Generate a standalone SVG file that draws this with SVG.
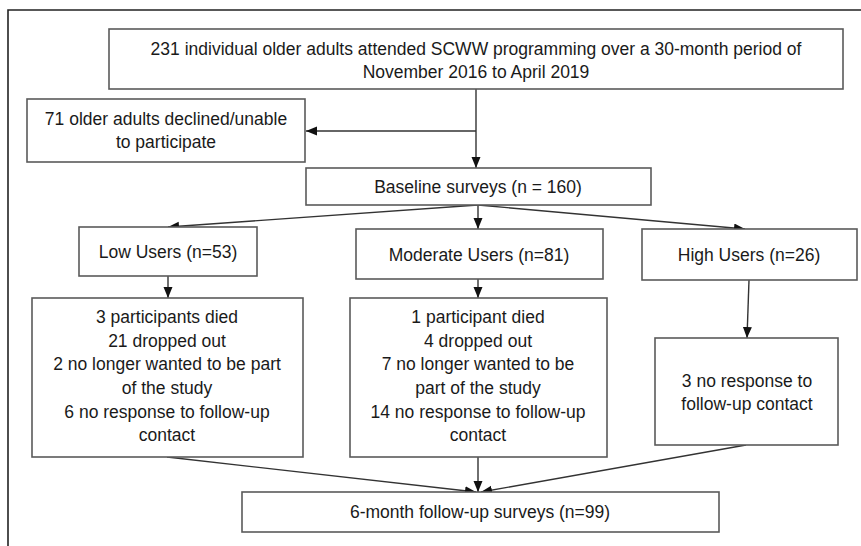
<svg xmlns="http://www.w3.org/2000/svg" width="861" height="546" viewBox="0 0 861 546">
<defs>
<style>
.box{fill:#fff;stroke:#5a5a5a;stroke-width:1.6}
.t{font-family:"Liberation Sans",Arial,sans-serif;font-size:17.5px;fill:#1a1a1a;text-anchor:middle}
.c{fill:none;stroke:#333;stroke-width:1.4}
</style>
<marker id="ah" markerUnits="userSpaceOnUse" markerWidth="12" markerHeight="10" refX="11" refY="4.5" orient="auto">
<path d="M0,0 L11,4.5 L0,9 z" fill="#111"/>
</marker>
</defs>
<rect width="861" height="546" fill="#fff"/>
<path d="M8,546 V10 H861" fill="none" stroke="#222" stroke-width="1.6"/>

<g id="connectors">
<line class="c" x1="476" y1="89" x2="476" y2="168" marker-end="url(#ah)"/>
<line class="c" x1="476" y1="131" x2="306" y2="131" marker-end="url(#ah)"/>
<line class="c" x1="478" y1="205" x2="168" y2="227" marker-end="url(#ah)"/>
<line class="c" x1="478" y1="205" x2="478" y2="229" marker-end="url(#ah)"/>
<line class="c" x1="478" y1="205" x2="745" y2="229" marker-end="url(#ah)"/>
<line class="c" x1="168" y1="276" x2="168" y2="298" marker-end="url(#ah)"/>
<line class="c" x1="478" y1="279" x2="478" y2="298" marker-end="url(#ah)"/>
<line class="c" x1="749" y1="280" x2="747" y2="338" marker-end="url(#ah)"/>
<line class="c" x1="167" y1="457" x2="476" y2="492" marker-end="url(#ah)"/>
<line class="c" x1="478" y1="457" x2="478" y2="492" marker-end="url(#ah)"/>
<line class="c" x1="746" y1="445" x2="481" y2="492" marker-end="url(#ah)"/>
</g>

<g id="attended">
<rect class="box" x="109" y="29" width="734" height="60"/>
<text class="t" x="476" y="55">231 individual older adults attended SCWW programming over a 30-month period of</text>
<text class="t" x="476" y="78">November 2016 to April 2019</text>
</g>

<g id="declined">
<rect class="box" x="27" y="99" width="278" height="63"/>
<text class="t" x="166" y="125">71 older adults declined/unable</text>
<text class="t" x="166" y="148">to participate</text>
</g>

<g id="baseline">
<rect class="box" x="306" y="168" width="345" height="37"/>
<text class="t" x="478" y="193">Baseline surveys (n = 160)</text>
</g>

<g id="low">
<rect class="box" x="79" y="227" width="178" height="49"/>
<text class="t" x="168" y="258">Low Users (n=53)</text>
</g>

<g id="moderate">
<rect class="box" x="356" y="229" width="247" height="50"/>
<text class="t" x="479" y="261">Moderate Users (n=81)</text>
</g>

<g id="high">
<rect class="box" x="642" y="229" width="215" height="51"/>
<text class="t" x="749" y="261">High Users (n=26)</text>
</g>

<g id="low-detail">
<rect class="box" x="32" y="298" width="271" height="159"/>
<text class="t" x="167" y="323">3 participants died</text>
<text class="t" x="167" y="347">21 dropped out</text>
<text class="t" x="167" y="370">2 no longer wanted to be part</text>
<text class="t" x="167" y="394">of the study</text>
<text class="t" x="167" y="418">6 no response to follow-up</text>
<text class="t" x="167" y="441">contact</text>
</g>

<g id="moderate-detail">
<rect class="box" x="350" y="298" width="257" height="159"/>
<text class="t" x="478" y="323">1 participant died</text>
<text class="t" x="478" y="347">4 dropped out</text>
<text class="t" x="478" y="370">7 no longer wanted to be</text>
<text class="t" x="478" y="394">part of the study</text>
<text class="t" x="478" y="418">14 no response to follow-up</text>
<text class="t" x="478" y="441">contact</text>
</g>

<g id="high-detail">
<rect class="box" x="655" y="338" width="183" height="107"/>
<text class="t" x="747" y="387">3 no response to</text>
<text class="t" x="747" y="410">follow-up contact</text>
</g>

<g id="followup">
<rect class="box" x="242" y="492" width="477" height="40"/>
<text class="t" x="480" y="518">6-month follow-up surveys (n=99)</text>
</g>
</svg>
